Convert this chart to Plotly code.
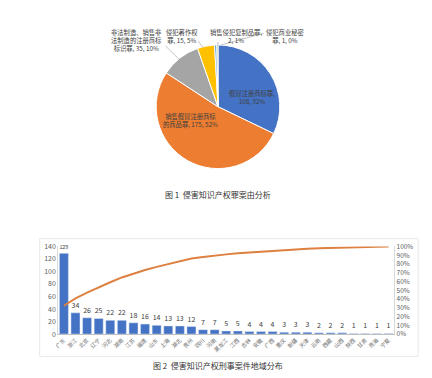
import plotly.graph_objects as go
import numpy as np

W, H = 432, 378

# ---- Pie data ----
pie_labels = ["假冒注册商标罪", "销售假冒注册商标的商品罪", "非法制造、销售非法制造的注册商标标识罪",
              "侵犯著作权罪", "销售侵犯复制品罪", "侵犯商业秘密罪"]
pie_values = [108, 175, 35, 15, 2, 1]
pie_pcts = ["32%", "52%", "10%", "5%", "1%", "0%"]
pie_colors = ["#4472C4", "#ED7D31", "#A5A5A5", "#FFC000", "#5B9BD5", "#70AD47"]

# ---- Bar data ----
provinces = ["广东", "浙江", "北京", "辽宁", "河北", "湖南", "江苏", "福建", "山东", "上海",
             "湖北", "贵州", "四川", "河南", "黑龙江", "江西", "吉林", "安徽", "广西", "重庆",
             "新疆", "天津", "云南", "西藏", "山西", "陕西", "甘肃", "青海", "宁夏"]
cases = [129, 34, 26, 25, 22, 22, 18, 16, 14, 13, 13, 12, 7, 7, 5, 5, 4, 4, 4, 3, 3, 3,
         2, 2, 2, 1, 1, 1, 1]
cum_pct = np.cumsum(cases) / np.sum(cases)

FONT = "Noto Sans CJK SC"
TXT = "#404040"

def px(x):
    return x / W

def py(y):
    return 1 - y / H

fig = go.Figure()

fig.add_trace(go.Pie(
    labels=pie_labels, values=pie_values, sort=False, direction="clockwise", rotation=0,
    marker=dict(colors=pie_colors, line=dict(color="white", width=1)),
    textinfo="none", hoverinfo="label+value+percent", showlegend=False,
    domain=dict(x=[px(216 - 63), px(216 + 63)], y=[py(167), py(40)]),
))

fig.add_trace(go.Bar(
    x=provinces, y=cases, marker_color="#4472C4", text=cases, textposition="outside",
    textfont=dict(size=7, color=TXT, family=FONT), cliponaxis=False, showlegend=False,
    xaxis="x", yaxis="y",
))
fig.add_trace(go.Scatter(
    x=provinces, y=cum_pct, mode="lines", line=dict(color="#DD8040", width=2),
    showlegend=False, xaxis="x", yaxis="y2",
))

# Pie label annotations
pie_label_pos = [
    (250, 94, "假冒注册商标罪,<br>{v}, {p}"),
    (188, 118, "销售假冒注册商标<br>的商品罪, {v}, {p}"),
    (134, 35, "非法制造、销售非<br>法制造的注册商标<br>标识罪, {v}, {p}"),
    (180, 31, "侵犯著作权<br>罪, {v}, {p}"),
    (234, 31, "销售侵犯复制品罪,<br>{v}, {p}"),
    (284, 31, "侵犯商业秘密<br>罪, {v}, {p}"),
]
annotations = []
for (x, y, tpl), v, p in zip(pie_label_pos, pie_values, pie_pcts):
    annotations.append(dict(x=px(x), y=py(y), xref="paper", yref="paper", showarrow=False,
                            xanchor="center", yanchor="middle",
                            text=tpl.format(v=v, p=p), align="center",
                            font=dict(size=6.3, color=TXT, family=FONT)))

annotations.append(dict(x=0.5, y=py(194), xref="paper", yref="paper", showarrow=False,
                        xanchor="center", yanchor="middle",
                        text="图 1  侵害知识产权罪案由分析", font=dict(size=8, color="#333", family=FONT)))
annotations.append(dict(x=0.5, y=py(369), xref="paper", yref="paper", showarrow=False,
                        xanchor="center", yanchor="middle",
                        text="图 2  侵害知识产权刑事案件地域分布", font=dict(size=8, color="#333", family=FONT)))

shapes = []
leaders = [((163, 41), (178, 56)), ((196, 36), (201, 43)), ((216, 37), (216, 41)), ((262, 28), (219, 40))]
for (x0, y0), (x1, y1) in leaders:
    shapes.append(dict(type="line", xref="paper", yref="paper", x0=px(x0), y0=py(y0), x1=px(x1), y1=py(y1),
                       line=dict(color="#999", width=0.6)))
# frame around bar chart
shapes.append(dict(type="rect", xref="paper", yref="paper", x0=px(36), y0=py(360), x1=px(418), y1=py(239),
                   line=dict(color="#e3e3e3", width=0.8), layer="below"))

fig.update_layout(
    width=W, height=H, margin=dict(l=0, r=0, t=0, b=0),
    paper_bgcolor="white", plot_bgcolor="white",
    font=dict(family=FONT, color=TXT),
    bargap=0.22,
    xaxis=dict(domain=[px(54.6), px(394)], tickangle=-45, tickfont=dict(size=5.5, color="#707070"),
               showline=True, linecolor="#bfbfbf", linewidth=0.8, ticks="", showgrid=False),
    yaxis=dict(domain=[py(337), py(247)], range=[0, 140], dtick=20, showgrid=False,
               tickfont=dict(size=7, color="#606060"), zeroline=False, ticks="",
               showline=True, linecolor="#d9d9d9", linewidth=0.8),
    yaxis2=dict(overlaying="y", side="right", range=[0, 1], dtick=0.1, tickformat=".0%",
                showgrid=False, tickfont=dict(size=6.5, color="#606060"), zeroline=False,
                showline=True, linecolor="#d9d9d9", linewidth=0.8, ticks=""),
    annotations=annotations, shapes=shapes,
)

fig.write_html("out.html")
